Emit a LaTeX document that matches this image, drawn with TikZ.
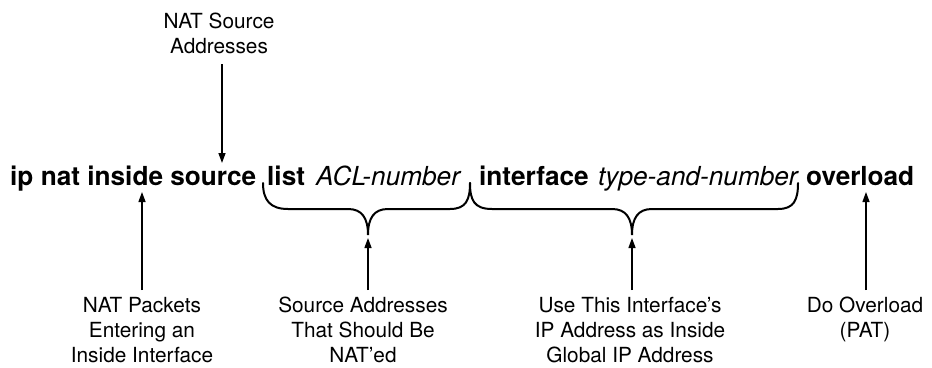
\documentclass[tikz,border=0pt]{standalone}
\usepackage{fontspec}
\setmainfont{TeX Gyre Heros}
\usetikzlibrary{arrows.meta}
\begin{document}
\begin{tikzpicture}[x=1pt,y=-1pt,
 cmd/.style={anchor=base west, inner sep=0pt, font=\fontsize{26.2}{32}\selectfont\bfseries},
 arg/.style={anchor=base west, inner sep=0pt, font=\fontsize{26.2}{32}\selectfont\itshape},
 lbl/.style={anchor=north, inner sep=0pt, align=center, font=\fontsize{20.8}{25}\selectfont},
 arr/.style={line width=1.3pt, -{Triangle[length=10pt,width=7pt]}},
 bracepath/.style={line width=2pt, line cap=round}]
\useasboundingbox (0,0) rectangle (932,367);

% command line
\node[cmd] (c1) at (10,185) {ip nat inside source};
\node[cmd] (c2) at (267,185) {list};
\node[arg] (c3) at (316,185) {ACL-number};
\node[cmd] (c4) at (479,185) {interface};
\node[arg] (c5) at (598,185) {type-and-number};
\node[cmd] (c6) at (806,185) {overload};

% labels
\node[lbl] (top) at (219,13) {NAT Source\\Addresses};
\node[lbl] (l1) at (142,297) {NAT Packets\\Entering an\\Inside Interface};
\node[lbl] (l2) at (363,297) {Source Addresses\\That Should Be\\NAT'ed};
\node[lbl] (l3) at (630,297) {Use This Interface's\\IP Address as Inside\\Global IP Address};
\node[lbl] (l4) at (865,297) {Do Overload\\(PAT)};

% braces
\coordinate (b1l) at (263,183);
\coordinate (b1m) at (368,235);
\coordinate (b1r) at (470,183);
\coordinate (b2m) at (632,235);
\coordinate (b2r) at (798,183);
\draw[bracepath] (b1l) .. controls (263,200) and (270,209) .. (288,209) -- (348,209)
  .. controls (362,209) and (368,218) .. (b1m)
  .. controls (368,218) and (374,209) .. (388,209) -- (450,209)
  .. controls (466,209) and (470,200) .. (b1r);
\draw[bracepath] (b1r) .. controls (470,200) and (474,209) .. (492,209) -- (612,209)
  .. controls (626,209) and (632,218) .. (b2m)
  .. controls (632,218) and (638,209) .. (652,209) -- (778,209)
  .. controls (794,209) and (798,200) .. (b2r);

% arrow ends
\coordinate (t0) at (222,64);
\coordinate (t1) at (222,163);
\coordinate (a1s) at (142,290);
\coordinate (a1e) at (142,192);
\coordinate (a2s) at (368,290);
\coordinate (a2e) at (368,238);
\coordinate (a3s) at (632,290);
\coordinate (a3e) at (632,238);
\coordinate (a4s) at (866,290);
\coordinate (a4e) at (866,192);
\draw[arr] (t0) -- (t1);
\draw[arr] (a1s) -- (a1e);
\draw[arr] (a2s) -- (a2e);
\draw[arr] (a3s) -- (a3e);
\draw[arr] (a4s) -- (a4e);
\end{tikzpicture}
\end{document}
